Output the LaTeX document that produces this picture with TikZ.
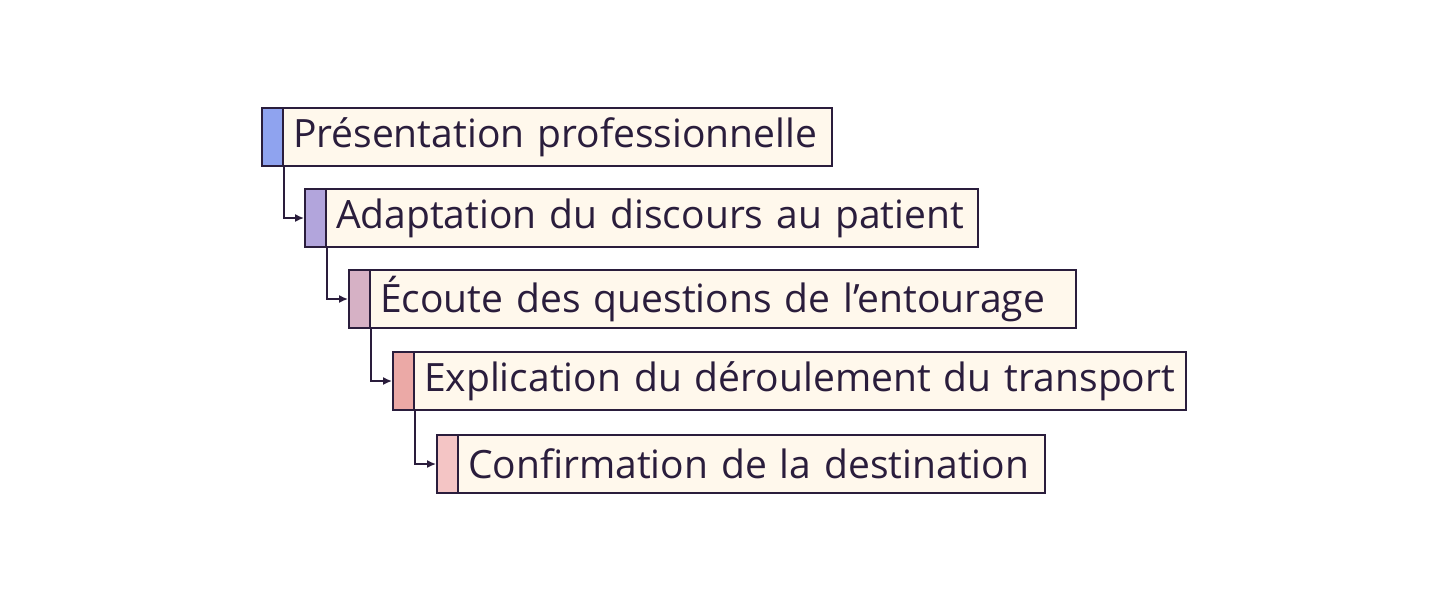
\documentclass[tikz,border=0pt]{standalone}
\usepackage{fontspec}
\setmainfont{Open Sans}
\usetikzlibrary{arrows.meta}
\definecolor{ink}{HTML}{2A1D3C}
\definecolor{cream}{HTML}{FFF8EC}
\definecolor{cA}{HTML}{8FA3EF}
\definecolor{cB}{HTML}{B2A5DC}
\definecolor{cC}{HTML}{D6B1C5}
\definecolor{cD}{HTML}{EBA9A6}
\definecolor{cE}{HTML}{F4C5C5}
\tikzset{
  bar/.style={draw=ink, line width=2pt, minimum width=21pt, minimum height=58pt, inner sep=0pt, anchor=north west},
  txt/.style={draw=ink, line width=2pt, fill=cream, minimum height=58pt, inner xsep=10pt, inner ysep=0pt, anchor=west, xshift=-2pt, align=left, text=ink, font=\fontsize{39}{44}\selectfont},
  conn/.style={draw=ink, line width=1.5pt, -{Latex[length=9pt,width=8pt]}}
}
\begin{document}
\begin{tikzpicture}[x=1pt,y=-1pt]
\useasboundingbox (0,0) rectangle (1448,605);
\node[bar, fill=cA] (b1) at (261,107) {};
\node[txt, text width=529pt] (t1) at (b1.east) {Présentation professionnelle};
\node[bar, fill=cB] (b2) at (304,188) {};
\node[txt, text width=632pt] (t2) at (b2.east) {Adaptation du discours au patient};
\node[bar, fill=cC] (b3) at (348,269) {};
\node[txt, text width=686pt] (t3) at (b3.east) {Écoute des questions de l’entourage};
\node[bar, fill=cD] (b4) at (392,351) {};
\node[txt, text width=752pt] (t4) at (b4.east) {Explication du déroulement du transport};
\node[bar, fill=cE] (b5) at (436,434) {};
\node[txt, text width=567pt] (t5) at (b5.east) {Confirmation de la destination};
\draw[conn] (b1.south east) |- (b2.west);
\draw[conn] (b2.south east) |- (b3.west);
\draw[conn] (b3.south east) |- (b4.west);
\draw[conn] (b4.south east) |- (b5.west);
\end{tikzpicture}
\end{document}
